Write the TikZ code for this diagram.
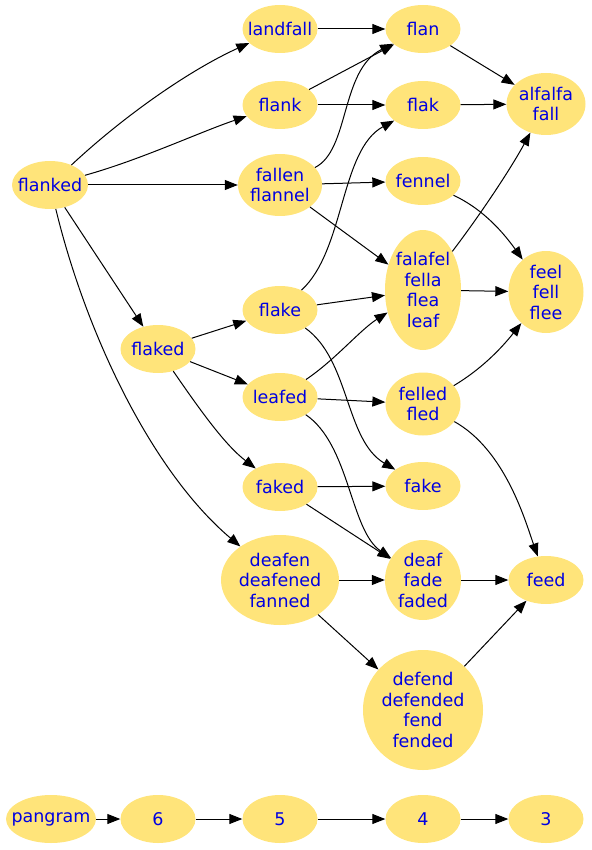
\documentclass[tikz,border=0pt]{standalone}
\usepackage{fontspec}
\newfontfamily\wordfont{DejaVu Sans}
\usetikzlibrary{shapes.geometric,arrows.meta}
\definecolor{wordfill}{RGB}{255,228,122}
\definecolor{wordblue}{RGB}{0,0,225}

\begin{document}
\begin{tikzpicture}[x=1pt,y=-1pt,
    word/.style={ellipse,fill=wordfill,inner sep=0pt,minimum width=75pt,minimum height=48pt},
    wordtext/.style={text=wordblue,font=\wordfont\fontsize{17.5}{20.5}\selectfont,align=center,inner sep=0pt},
    edge/.style={-{Triangle[length=13pt,width=10pt]},line width=1pt}]
    \useasboundingbox (0,0) rectangle (591,850);

    % words, row by row
    \node[word,label={[wordtext]center:landfall}] (landfall) at (280,29) {};
    \node[word,label={[wordtext]center:flan}] (flan) at (423,29) {};
    \node[word,minimum width=79pt,minimum height=62pt,label={[wordtext]center:alfalfa\\fall}] (alfalfa) at (546,104) {};
    \node[word,label={[wordtext]center:flank}] (flank) at (280,105) {};
    \node[word,label={[wordtext]center:flak}] (flak) at (423,105) {};
    \node[word,minimum width=76pt,label={[wordtext]center:flanked}] (flanked) at (50,185) {};
    \node[word,minimum width=84pt,minimum height=62pt,label={[wordtext]center:fallen\\flannel}] (fallen) at (280,185) {};
    \node[word,label={[wordtext]center:fennel}] (fennel) at (423,181) {};
    \node[word,minimum width=76pt,minimum height=120pt,label={[wordtext]center:falafel\\fella\\flea\\leaf}] (falafel) at (423,290) {};
    \node[word,minimum height=82pt,label={[wordtext]center:feel\\fell\\flee}] (feel) at (546,292) {};
    \node[word,label={[wordtext]center:flake}] (flake) at (280,310) {};
    \node[word,label={[wordtext]center:flaked}] (flaked) at (158,349) {};
    \node[word,label={[wordtext]center:leafed}] (leafed) at (280,397) {};
    \node[word,minimum height=63pt,label={[wordtext]center:felled\\fled}] (felled) at (423,404) {};
    \node[word,label={[wordtext]center:faked}] (faked) at (280,487) {};
    \node[word,label={[wordtext]center:fake}] (fake) at (423,486) {};
    \node[word,minimum width=118pt,minimum height=90pt,label={[wordtext]center:deafen\\deafened\\fanned}] (deafen) at (280,580) {};
    \node[word,minimum width=76pt,minimum height=80pt,label={[wordtext]center:deaf\\fade\\faded}] (deaf) at (423,580) {};
    \node[word,label={[wordtext]center:feed}] (feed) at (546,580) {};
    \node[word,minimum width=120pt,minimum height=120pt,label={[wordtext]center:defend\\defended\\fend\\fended}] (defend) at (423,710) {};

    % legend row
    \node[word,minimum width=90pt,label={[wordtext]center:pangram}] (pangram) at (51,819) {};
    \foreach \n/\x in {6/158,5/280,4/423,3/546}
        \node[word,label={[wordtext]center:\n}] (n\n) at (\x,819) {};
    \draw[edge] (pangram) -- (n6);
    \foreach \a/\b in {6/5,5/4,4/3}
        \draw[edge] (n\a) -- (n\b);

    % from flanked
    \draw[edge] (flanked) .. controls (125,115) and (190,70) .. (landfall);
    \draw[edge] (flanked) .. controls (140,160) and (200,132) .. (flank);
    \draw[edge] (flanked) -- (fallen);
    \draw[edge] (flanked) -- (flaked);
    \draw[edge] (flanked) .. controls (85,330) and (150,470) .. (deafen);

    % top rows
    \draw[edge] (landfall) -- (flan);
    \draw[edge] (flank) -- (flan);
    \draw[edge] (flank) -- (flak);
    \draw[edge] (fallen) .. controls (350,150) and (340,70) .. (flan);
    \draw[edge] (fallen) -- (fennel);
    \draw[edge] (fallen) -- (falafel);
    \draw[edge] (flan) -- (alfalfa);
    \draw[edge] (flak) -- (alfalfa);
    \draw[edge] (fennel) .. controls (485,210) and (505,235) .. (feel);
    \draw[edge] (falafel) .. controls (480,215) and (510,170) .. (alfalfa);
    \draw[edge] (falafel) -- (feel);

    % middle rows
    \draw[edge] (flake) .. controls (345,250) and (340,150) .. (flak);
    \draw[edge] (flake) -- (falafel);
    \draw[edge] (flake) .. controls (350,360) and (345,440) .. (fake);
    \draw[edge] (flaked) -- (flake);
    \draw[edge] (flaked) -- (leafed);
    \draw[edge] (flaked) .. controls (200,410) and (225,445) .. (faked);
    \draw[edge] (leafed) .. controls (335,360) and (360,330) .. (falafel);
    \draw[edge] (leafed) -- (felled);
    \draw[edge] (leafed) .. controls (350,445) and (350,530) .. (deaf);
    \draw[edge] (felled) .. controls (480,370) and (500,350) .. (feel);
    \draw[edge] (felled) .. controls (505,450) and (525,520) .. (feed);
    \draw[edge] (faked) -- (fake);
    \draw[edge] (faked) -- (deaf);

    % bottom rows
    \draw[edge] (deafen) -- (deaf);
    \draw[edge] (deafen) -- (defend);
    \draw[edge] (deaf) -- (feed);
    \draw[edge] (defend) -- (feed);
\end{tikzpicture}
\end{document}
